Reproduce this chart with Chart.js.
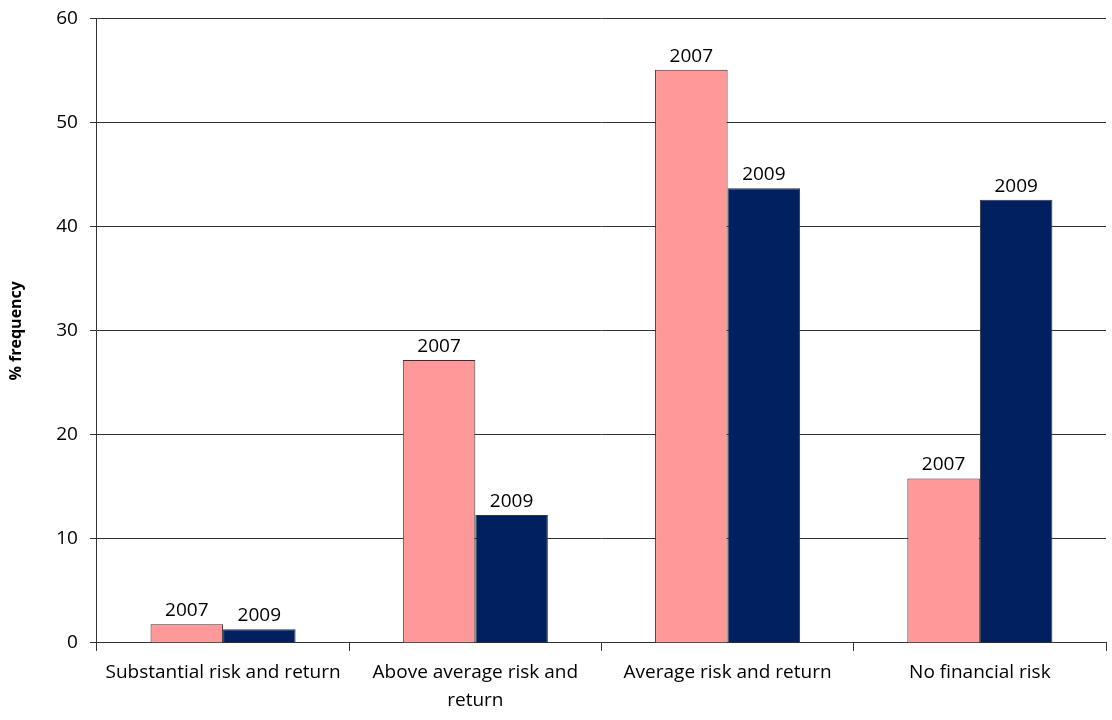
<!DOCTYPE html>
<html>
<head>
<meta charset="utf-8">
<script src="https://cdn.jsdelivr.net/npm/chart.js@4"></script>
<style>
  html, body { margin: 0; padding: 0; background: #fff; }
  #wrap { width: 1112px; height: 720px; }
</style>
</head>
<body>
<div id="wrap"><canvas id="chart" width="1112" height="720"></canvas></div>
<script>
const categories = [
    'Substantial risk and return',
    ['Above average risk and', 'return'],
    'Average risk and return',
    'No financial risk',
]
const values2007 = [1.8, 27.2, 55.1, 15.8]
const values2009 = [1.3, 12.3, 43.7, 42.6]
const yTicks = [0, 10, 20, 30, 40, 50, 60]

const FONT = '"Open Sans", Lato, sans-serif'

// draws the series name above each bar
const barLabels = {
    id: 'barLabels',
    afterDatasetsDraw(chart) {
        const ctx = chart.ctx
        ctx.save()
        ctx.font = '19px ' + FONT
        ctx.fillStyle = '#000'
        ctx.textAlign = 'center'
        ctx.textBaseline = 'bottom'
        chart.data.datasets.forEach((ds, i) => {
            chart.getDatasetMeta(i).data.forEach(bar => {
                ctx.fillText(ds.label, bar.x, bar.y - 4)
            })
        })
        ctx.restore()
    }
}

new Chart(document.querySelector('#chart'), {
    type: 'bar',
    data: {
        labels: categories,
        datasets: [{
            label: '2007',
            data: values2007,
            backgroundColor: '#ff9999',
            borderColor: '#333',
            borderWidth: 1,
        }, {
            label: '2009',
            data: values2009,
            backgroundColor: '#002060',
            borderColor: '#333',
            borderWidth: 1,
        }]
    },
    options: {
        responsive: false,
        animation: false,
        layout: { padding: { top: 3, right: 6, left: 7, bottom: -2 } },
        datasets: {
            bar: { barPercentage: 1, categoryPercentage: 0.575 }
        },
        plugins: {
            legend: { display: false },
            tooltip: { enabled: false },
        },
        scales: {
            x: {
                grid: {
                    drawOnChartArea: false,
                    drawTicks: true,
                    tickLength: 8,
                    color: '#333',
                    offset: true,
                },
                border: { color: '#333', width: 1 },
                ticks: {
                    color: '#000',
                    font: { family: FONT, size: 19, lineHeight: 1.45 },
                    maxRotation: 0,
                    autoSkip: false,
                    padding: 8,
                },
            },
            y: {
                min: 0,
                max: 60,
                afterBuildTicks(axis) {
                    axis.ticks = yTicks.map(v => ({ value: v }))
                },
                grid: {
                    color: '#333',
                    tickLength: 7,
                },
                border: { color: '#333', width: 1 },
                ticks: {
                    color: '#000',
                    font: { family: FONT, size: 19, lineHeight: 0.7 },
                    padding: 12,
                },
                title: {
                    display: true,
                    text: '% frequency',
                    color: '#000',
                    font: { family: FONT, size: 16, weight: 'bold' },
                    padding: { top: 0, bottom: 18 },
                },
            }
        }
    },
    plugins: [barLabels]
});
</script>
</body>
</html>
